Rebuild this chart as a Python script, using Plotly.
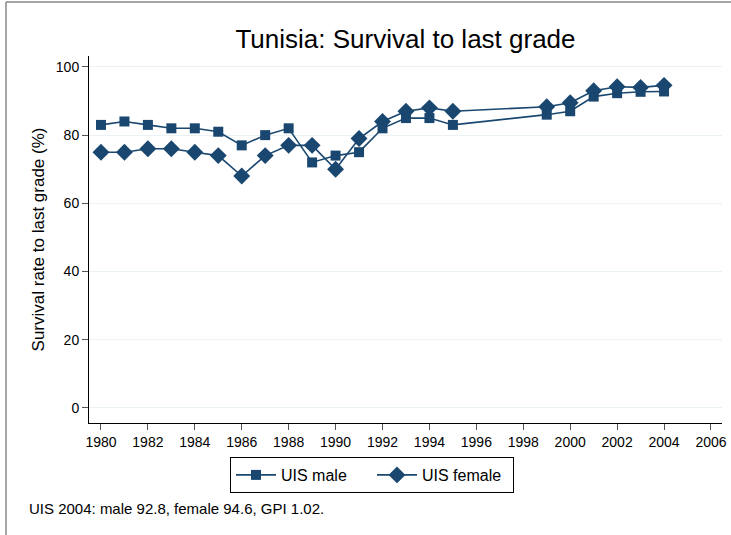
import plotly.graph_objects as go

years_male = [1980, 1981, 1982, 1983, 1984, 1985, 1986, 1987, 1988, 1989, 1990, 1991,
              1992, 1993, 1994, 1995, 1999, 2000, 2001, 2002, 2003, 2004]
male = [83, 84, 83, 82, 82, 81, 77, 80, 82, 72, 74, 75,
        82, 85, 85, 83, 86, 87, 91.3, 92.3, 92.7, 92.8]
years_female = years_male
female = [75, 75, 76, 76, 75, 74, 68, 74, 77, 77, 70, 79,
          84, 87, 88, 87, 88.3, 89.5, 93, 94.2, 94, 94.6]

x_ticks = list(range(1980, 2007, 2))
y_ticks = [0, 20, 40, 60, 80, 100]

W, H = 731, 535
L, R, T, B = 89, 9, 56, 112
pw, ph = W - L - R, H - T - B

def px(xp):
    return (xp - L) / pw

def py(yp):
    return (H - B - yp) / ph

color = "#1a476f"
font = "Liberation Sans, Arial, sans-serif"

fig = go.Figure()
fig.add_trace(go.Scatter(x=years_male, y=male, name="UIS male", mode="lines+markers",
                         line=dict(color=color, width=1.6),
                         marker=dict(symbol="square", size=10, color=color)))
fig.add_trace(go.Scatter(x=years_female, y=female, name="UIS female", mode="lines+markers",
                         line=dict(color=color, width=1.6),
                         marker=dict(symbol="diamond", size=13, color=color)))

fig.update_layout(
    width=W, height=H,
    margin=dict(l=L, r=R, t=T, b=B, autoexpand=False),
    paper_bgcolor="white", plot_bgcolor="white",
    font=dict(family=font, color="black", size=13),
    title=dict(text="Tunisia: Survival to last grade", x=0.5 * (L + W - R) / W, xanchor="center",
               y=1 - 39 / H, yanchor="middle", font=dict(size=26, family=font)),
    xaxis=dict(range=[1979.49, 2006.47], tickvals=x_ticks, showgrid=False, zeroline=False,
               showline=True, linecolor="black", linewidth=1, ticks="outside", ticklen=6,
               tickcolor="#555", tickfont=dict(size=14), automargin=False),
    yaxis=dict(range=[-4.4, 103.2], tickvals=y_ticks, showgrid=True, gridcolor="#eaf2f3",
               gridwidth=1.2, zeroline=False, showline=True, linecolor="black", linewidth=1,
               ticks="outside", ticklen=6, tickcolor="#555", tickfont=dict(size=14),
               automargin=False,
               title=dict(text="Survival rate to last grade (%)", font=dict(size=17), standoff=6)),
    legend=dict(orientation="h", x=px(372), xanchor="center", y=py(457), yanchor="top",
                bordercolor="black", borderwidth=1, font=dict(size=16),
                itemwidth=40, entrywidth=86, entrywidthmode="pixels", bgcolor="white"),
    showlegend=True,
)

fig.add_annotation(text="UIS 2004: male 92.8, female 94.6, GPI 1.02.", xref="paper", yref="paper",
                   x=px(27), y=py(509), xanchor="left", yanchor="middle", showarrow=False,
                   font=dict(size=15, family=font))

fig.add_shape(type="line", xref="paper", yref="paper", x0=px(6), y0=py(2), x1=px(W), y1=py(2),
              line=dict(color="#888", width=1.5))
fig.add_shape(type="line", xref="paper", yref="paper", x0=px(6), y0=py(2), x1=px(6), y1=py(H),
              line=dict(color="#888", width=1.5))

fig.write_html("out.html", config={"displayModeBar": False},
               post_script="document.body.style.margin='0px';document.body.style.overflow='hidden';")
